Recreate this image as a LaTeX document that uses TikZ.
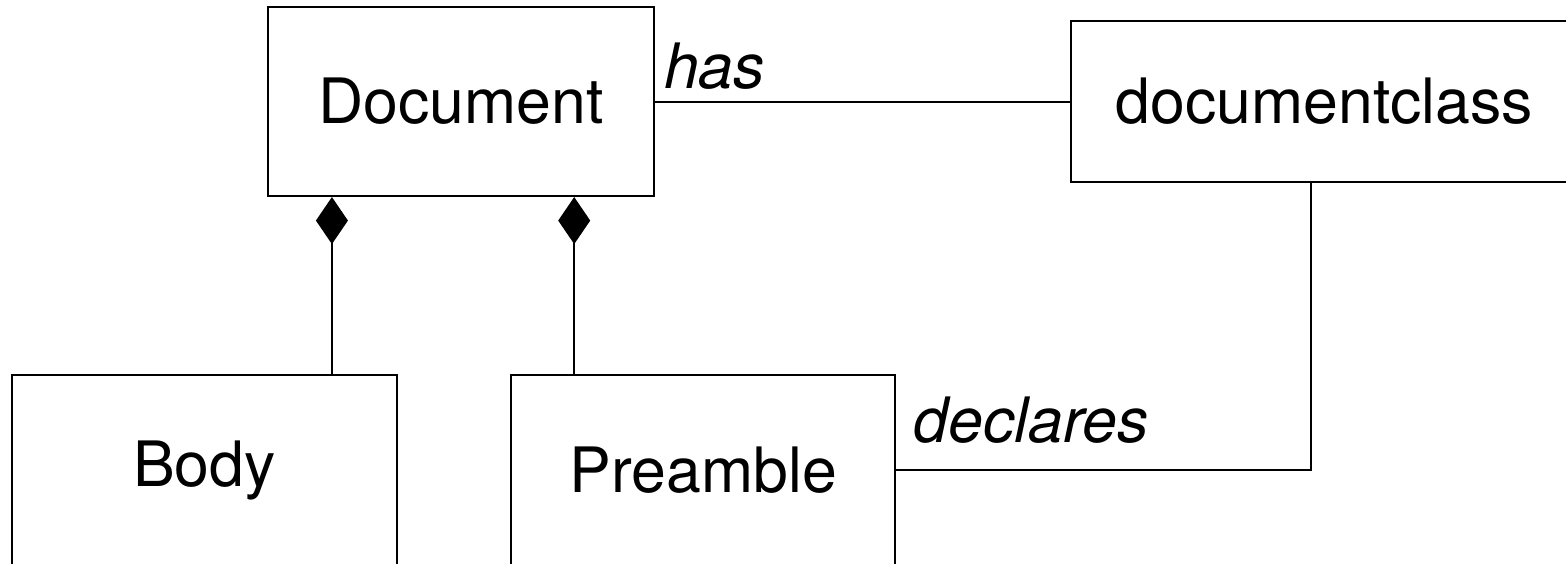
\documentclass[tikz,border=0pt]{standalone}
\usepackage{fontspec}
\setmainfont{TeX Gyre Heros}
\tikzstyle{umlbox} = [rectangle, draw, line width=0.02cm, font=\fontsize{17.8}{21}\selectfont]
\tikzstyle{role} = [font=\fontsize{17.8}{21}\selectfont\itshape]
\tikzstyle{composite} = [{Diamond[length=0.47cm, width=0.32cm]}-, line width=0.02cm]
\usetikzlibrary{arrows.meta}
\usetikzlibrary{positioning}

\begin{document}
\begin{tikzpicture}[x=0.01cm, y=-0.01cm, line width=0.02cm]
\useasboundingbox (0,0) rectangle (1566,563);
\clip (0,0) rectangle (1566,563);
\node [umlbox, minimum width=3.86cm, minimum height=1.89cm] (document) at (461,101.5) {Document};
\node [umlbox, minimum width=5.06cm, minimum height=1.6cm, right=4.15cm of document] (docclass) {documentclass};
\node [umlbox, minimum width=3.85cm, minimum height=1.9cm] (body) at (204.5,470) {Body};
\node [umlbox, minimum width=3.84cm, minimum height=1.9cm, right=1.12cm of body] (preamble) {Preamble};
\draw (document) -- node [role, anchor=south west, pos=0, inner xsep=0.08cm, inner ysep=0.11cm] {has} (docclass);
\coordinate (bodyjoin) at ([xshift=0.65cm]document.south west);
\draw [composite] (bodyjoin) -- (bodyjoin |- body.north);
\coordinate (preamblejoin) at ([xshift=0.64cm]preamble.north west);
\draw [composite] (preamblejoin |- document.south) -- (preamblejoin);
\coordinate (classjoin) at ([xshift=-0.14cm]docclass.south);
\draw (preamble.east) -| node [role, anchor=south west, pos=0, inner xsep=0.16cm, inner ysep=0.26cm] {declares} (classjoin);
\end{tikzpicture}
\end{document}
